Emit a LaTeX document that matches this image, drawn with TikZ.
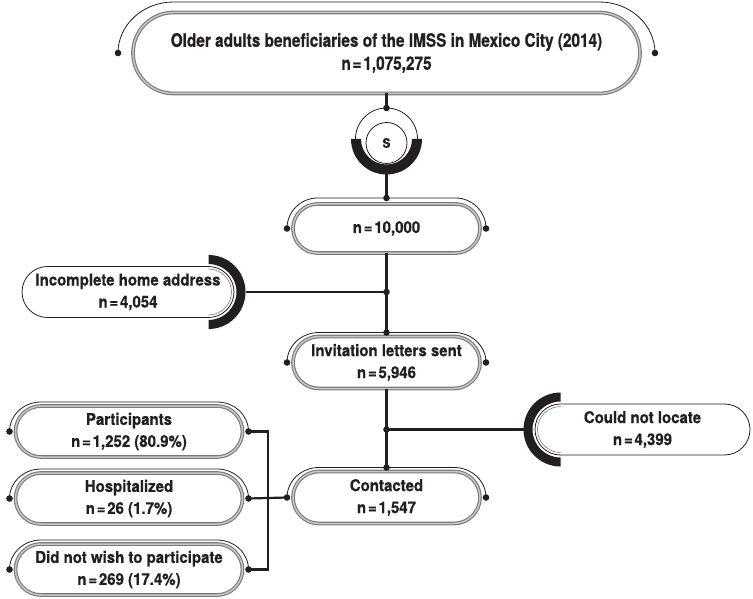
\documentclass[tikz,border=0pt]{standalone}
\usepackage{fontspec}
\usetikzlibrary{shapes.misc}
\newfontfamily\topfont[FakeStretch=0.83,FakeBold=0.6]{TeX Gyre Heros}
\newfontfamily\boxfont[FakeStretch=0.92,FakeBold=0.6]{TeX Gyre Heros}
\newcommand\eqsp{\kern1.8pt=\kern1.8pt}

\begin{document}
\begin{tikzpicture}[
  x=1pt, y=1pt,
  mainbox/.style={rounded rectangle, draw=boxgray, double=boxlight, double distance=1.5pt,
    line width=1.1pt, inner sep=0pt, outer sep=0pt, align=center, text=ink,
    font=\boxfont\bfseries\fontsize{16.3}{22}\selectfont},
  sidebox/.style={rounded rectangle, draw=ink, line width=0.8pt, inner sep=0pt, outer sep=0pt,
    align=center, text=ink, minimum height=51pt,
    font=\boxfont\bfseries\fontsize{16.3}{22}\selectfont},
  halo/.style={draw=ink, line width=0.8pt},
  link/.style={draw=ink, line width=2.7pt},
  band/.style={fill=ink},
  dot/.style={fill=ink},
]
\definecolor{ink}{RGB}{35,31,32}
\definecolor{boxgray}{RGB}{120,120,120}
\definecolor{boxlight}{RGB}{200,200,200}

\useasboundingbox (0,0) rectangle (753,-599);

% population
\node [mainbox, minimum width=507pt, minimum height=81pt,
  font=\topfont\bfseries\fontsize{18.5}{23}\selectfont] (top) at (386.5,-53)
  {Older adults beneficiaries of the IMSS in Mexico City (2014)\\n\eqsp1,075,275};
\draw [halo] ([xshift=-15pt]top.west) arc [start angle=180, end angle=90, x radius=55.5pt, y radius=51pt]
  -- ++(426pt,0) arc [start angle=90, end angle=0, x radius=55.5pt, y radius=51pt];

% sampling
\coordinate (sring) at (386.5,-139);
\draw [halo] (sring) circle [radius=31pt];
\fill [band] ([xshift=-35.5pt]sring) arc [start angle=180, end angle=360, radius=35.5pt]
  -- ++(-10pt,0) arc [start angle=360, end angle=180, radius=25.5pt] -- cycle;
\node [circle, draw=ink, line width=0.8pt, minimum size=41pt, inner sep=0pt, text=ink,
  font=\boxfont\bfseries\fontsize{13}{15}\selectfont] (samp) at (386.5,-143) {S};

% main column
\node [mainbox, minimum width=187pt, minimum height=49pt] (ten) at (386.5,-228.5) {n\eqsp10,000};
\node [mainbox, minimum width=187pt, minimum height=52pt] (inv) at (386.5,-362.5) {Invitation letters sent\\n\eqsp5,946};
\node [mainbox, minimum width=187pt, minimum height=52pt] (con) at (386.5,-497.5) {Contacted\\n\eqsp1,547};

\draw [halo] ([xshift=-6pt]ten.west) arc [start angle=180, end angle=90, x radius=30.5pt, y radius=30.5pt]
  -- ++(138pt,0) arc [start angle=90, end angle=0, x radius=30.5pt, y radius=30.5pt];
\draw [halo] ([xshift=-6pt]inv.west) arc [start angle=180, end angle=90, x radius=32pt, y radius=30pt]
  -- ++(135pt,0) arc [start angle=90, end angle=0, x radius=32pt, y radius=30pt];
\draw [halo] ([xshift=-6pt]con.west) arc [start angle=180, end angle=90, x radius=32pt, y radius=30pt]
  -- ++(135pt,0) arc [start angle=90, end angle=0, x radius=32pt, y radius=30pt];

% exclusions
\node [sidebox, minimum width=212pt] (inc) at (128,-292) {Incomplete home address\\n\eqsp4,054};
\draw [boxgray, line width=0.6pt] ([shift={(-25.5pt,23pt)}]inc.east) arc [start angle=90, end angle=-90, radius=23pt];
\fill [band] ([shift={(-25.5pt,37pt)}]inc.east) arc [start angle=90, end angle=-90, radius=37pt]
  -- ++(0,9pt) arc [start angle=-90, end angle=90, radius=28pt] -- cycle;

\node [sidebox, minimum width=215pt] (loc) at (642.5,-429.5) {Could not locate\\n\eqsp4,399};
\draw [boxgray, line width=0.6pt] ([shift={(25.5pt,23pt)}]loc.west) arc [start angle=90, end angle=270, radius=23pt];
\fill [band] ([shift={(25.5pt,37pt)}]loc.west) arc [start angle=90, end angle=270, radius=37pt]
  -- ++(0,9pt) arc [start angle=270, end angle=90, radius=28pt] -- cycle;

% outcomes
\node [mainbox, minimum width=227pt, minimum height=51pt] (par) at (129,-431.5) {Participants\\n\eqsp1,252 (80.9\%)};
\node [mainbox, minimum width=227pt, minimum height=51pt] (hos) at (129,-498.5) {Hospitalized\\n\eqsp26 (1.7\%)};
\node [mainbox, minimum width=227pt, minimum height=51pt] (dnw) at (129,-569.5) {Did not wish to participate\\n\eqsp269 (17.4\%)};

\draw [halo] ([xshift=-6pt]par.west) arc [start angle=180, end angle=90, x radius=31.5pt, y radius=29.5pt]
  -- ++(176pt,0) arc [start angle=90, end angle=0, x radius=31.5pt, y radius=29.5pt];
\draw [halo] ([xshift=-6pt]hos.west) arc [start angle=180, end angle=90, x radius=31.5pt, y radius=29.5pt]
  -- ++(176pt,0) arc [start angle=90, end angle=0, x radius=31.5pt, y radius=29.5pt];
\draw [halo] ([xshift=-6pt]dnw.west) arc [start angle=180, end angle=90, x radius=31.5pt, y radius=29.5pt]
  -- ++(176pt,0) arc [start angle=90, end angle=0, x radius=31.5pt, y radius=29.5pt];

% connectors
\coordinate (j1) at (ten.south |- inc.east);
\coordinate (j2) at (inv.south |- loc.west);

\draw [link] (top.south) -- ([yshift=31pt]sring);
\draw [link] ([yshift=-35.5pt]sring) -- ([yshift=6pt]ten.north);
\draw [link] (ten.south) -- ([yshift=4pt]inv.north);
\draw [link] ([xshift=11.5pt]inc.east) -- (j1);
\draw [link] (inv.south) -- ([yshift=4pt]con.north);
\draw [link] (j2) -- ([xshift=-11.5pt]loc.west);
\draw [link, line width=2.2pt] ([xshift=6pt]par.east) -- ++(19.5pt,0) |- ([xshift=6pt]dnw.east);
\draw [link, line width=2.2pt] ([xshift=6pt]hos.east) -- ([xshift=-6pt]con.west);

% dots
\path [dot] ([xshift=-15pt]top.west) circle [radius=3.3pt];
\path [dot] ([xshift=15pt]top.east) circle [radius=3.3pt];
\path [dot] ([yshift=31pt]sring) circle [radius=3.3pt];

\path [dot] ([yshift=6pt]ten.north) circle [radius=3.3pt];
\path [dot] ([xshift=-6pt]ten.west) circle [radius=3.3pt];
\path [dot] ([xshift=6pt]ten.east) circle [radius=3.3pt];
\path [dot] (j1) circle [radius=3.3pt];

\path [dot] ([yshift=4pt]inv.north) circle [radius=3.3pt];
\path [dot] ([xshift=-6pt]inv.west) circle [radius=3.3pt];
\path [dot] ([xshift=6pt]inv.east) circle [radius=3.3pt];
\path [dot] (j2) circle [radius=3.3pt];

\path [dot] ([yshift=4pt]con.north) circle [radius=3.3pt];
\path [dot] ([xshift=-6pt]con.west) circle [radius=3.3pt];
\path [dot] ([xshift=6pt]con.east) circle [radius=3.3pt];

\path [dot] ([xshift=-6pt]par.west) circle [radius=3.3pt];
\path [dot] ([xshift=6pt]par.east) circle [radius=3.3pt];
\path [dot] ([xshift=-6pt]hos.west) circle [radius=3.3pt];
\path [dot] ([xshift=6pt]hos.east) circle [radius=3.3pt];
\path [dot] ([xshift=-6pt]dnw.west) circle [radius=3.3pt];
\path [dot] ([xshift=6pt]dnw.east) circle [radius=3.3pt];

\end{tikzpicture}
\end{document}
